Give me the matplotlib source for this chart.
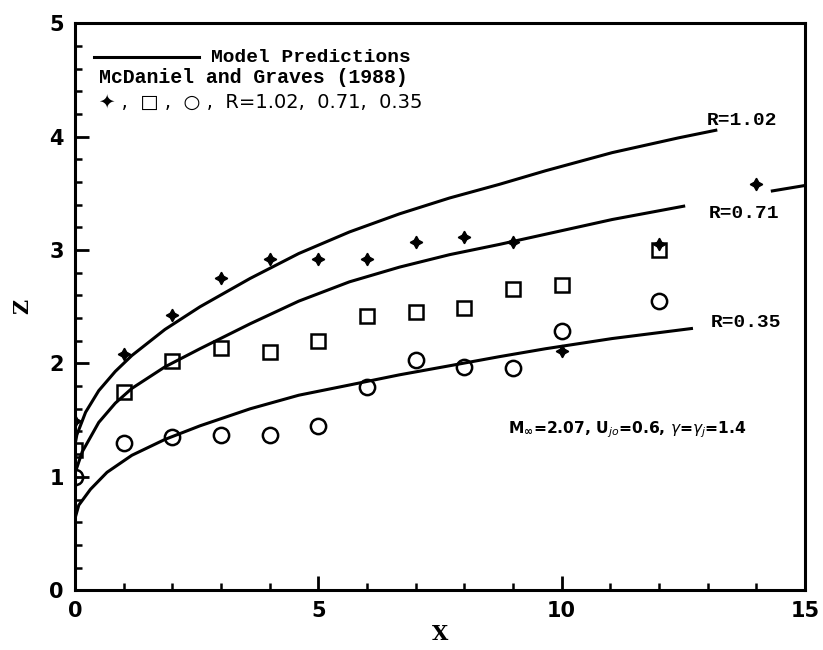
import matplotlib.pyplot as plt
import numpy as np
from matplotlib.ticker import MultipleLocator

# measured points, McDaniel and Graves (1988)
x_pts = [0, 1, 2, 3, 4, 5, 6, 7, 8, 9, 10, 12]
z_plus = [1.49, 2.08, 2.43, 2.75, 2.92, 2.92, 2.92, 3.07, 3.12, 3.07, 2.11, 3.05]
x_plus_extra = [14]
z_plus_extra = [3.58]
z_square = [1.24, 1.75, 2.02, 2.14, 2.10, 2.20, 2.42, 2.45, 2.49, 2.66, 2.69, 3.00]
z_circle = [1.00, 1.30, 1.35, 1.37, 1.37, 1.45, 1.79, 2.03, 1.97, 1.96, 2.29, 2.55]

# model prediction curves
x_r102 = [0.0, 0.04, 0.22, 0.49, 0.83, 1.17, 1.85, 2.57, 3.6, 4.6, 5.64, 6.67, 7.7,
          8.72, 9.67, 11.04, 12.4, 13.2]
z_r102 = [1.28, 1.37, 1.57, 1.76, 1.93, 2.07, 2.30, 2.50, 2.75, 2.97, 3.16, 3.32, 3.46,
          3.58, 3.70, 3.86, 3.99, 4.06]
x_r071 = [0.0, 0.15, 0.49, 0.83, 1.17, 1.85, 2.57, 3.6, 4.6, 5.64, 6.67, 7.7, 8.72,
          9.67, 11.04, 12.54]
z_r071 = [1.03, 1.22, 1.48, 1.65, 1.78, 1.97, 2.13, 2.35, 2.55, 2.72, 2.85, 2.96, 3.05,
          3.14, 3.27, 3.39]
x_r035 = [0.0, 0.08, 0.32, 0.66, 1.17, 1.85, 2.57, 3.6, 4.6, 5.64, 6.67, 7.7, 8.72,
          9.67, 11.04, 12.7]
z_r035 = [0.63, 0.75, 0.89, 1.04, 1.19, 1.33, 1.45, 1.60, 1.72, 1.81, 1.90, 1.98, 2.06,
          2.13, 2.22, 2.31]
x_tail = [14.3, 15.0]
z_tail = [3.52, 3.57]

mono = 'Liberation Mono'

fig = plt.figure(figsize=(8.23, 6.5), dpi=100)
ax = fig.add_axes([0.091, 0.092, 0.887, 0.872])

for xs, zs in [(x_r102, z_r102), (x_r071, z_r071), (x_r035, z_r035), (x_tail, z_tail)]:
    ax.plot(xs, zs, color='black', lw=2.2, solid_capstyle='butt', solid_joinstyle='round')

ax.plot(x_pts, z_plus, ls='none', marker=(4, 1, 0), ms=9, color='black', mew=1.0)
ax.plot(x_plus_extra, z_plus_extra, ls='none', marker=(4, 1, 0), ms=9, color='black', mew=1.0)
ax.plot(x_pts, z_square, ls='none', marker='s', ms=10, mfc='none', mec='black', mew=1.8)
ax.plot(x_pts, z_circle, ls='none', marker='o', ms=11, mfc='none', mec='black', mew=1.8)

# curve labels
for xl, zl, lab in [(13.7, 4.14, 'R=1.02'), (13.75, 3.32, 'R=0.71'), (13.8, 2.36, 'R=0.35')]:
    ax.text(xl, zl, lab, ha='center', va='center', fontsize=14, fontweight='bold', family=mono)

# legend block
ax.plot([0.4, 2.55], [4.7, 4.7], color='black', lw=2.2)
ax.text(2.8, 4.7, 'Model Predictions', ha='left', va='center', fontsize=14,
        fontweight='bold', family=mono)
ax.text(0.5, 4.52, 'McDaniel and Graves (1988)', ha='left', va='center', fontsize=14.3,
        fontweight='bold', family=mono)
ax.text(0.5, 4.3, '✦ ,  □ ,  ○ ,  R=1.02,  0.71,  0.35', ha='left', va='center', fontsize=14,
        family=['DejaVu Sans'])

ax.text(8.9, 1.42, r'$\mathbf{M_{\infty}}$=2.07, U$_{jo}$=0.6, $\gamma$=$\gamma_j$=1.4',
        ha='left', va='center', fontsize=11.2, fontweight='bold')

ax.set_xlim(0, 15)
ax.set_ylim(0, 5)
ax.xaxis.set_major_locator(MultipleLocator(5))
ax.xaxis.set_minor_locator(MultipleLocator(1))
ax.yaxis.set_major_locator(MultipleLocator(1))
ax.yaxis.set_minor_locator(MultipleLocator(0.2))
ax.tick_params(which='major', direction='in', length=10, width=2, labelsize=15, pad=8)
ax.tick_params(which='minor', direction='in', length=5, width=1.8)
for lbl in ax.get_xticklabels() + ax.get_yticklabels():
    lbl.set_fontweight('bold')
for sp in ax.spines.values():
    sp.set_linewidth(2.2)

ax.set_xlabel('X', fontsize=15, fontweight='bold', family='DejaVu Serif', labelpad=2)
ax.set_ylabel('Z', fontsize=15, fontweight='bold', family='DejaVu Serif', labelpad=12)

fig.savefig('out.png', dpi=100)
